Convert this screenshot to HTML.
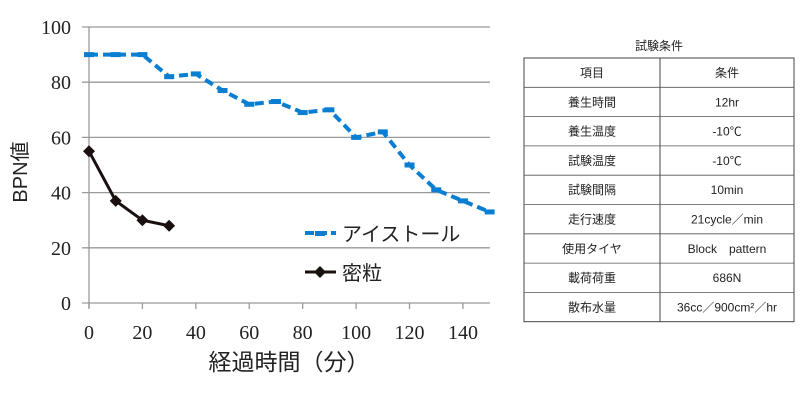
<!DOCTYPE html>
<html><head><meta charset="utf-8"><style>
body{margin:0;background:#fff;width:800px;height:400px;overflow:hidden}
svg text{font-family:"Liberation Serif","Noto Serif CJK SC",serif}
.j{font-family:"Liberation Sans","Noto Sans CJK JP",sans-serif}
</style></head><body>
<svg width="800" height="400" xmlns="http://www.w3.org/2000/svg">
<g id="grid"></g><g id="ticks"></g><g id="series"></g>
<text class="j" x="27" y="172" font-size="20" fill="#222" text-anchor="middle" transform="rotate(-90 27 172)">BPN値</text>
<text class="j" x="289" y="370" font-size="23" fill="#222" text-anchor="middle">経過時間（分）</text>
<g>
<line x1="305" y1="233" x2="336" y2="233" stroke="#0a7ed1" stroke-width="4" stroke-dasharray="9,4"/>
<rect x="315" y="231" width="10" height="5" fill="#0a7ed1"/>
<text class="j" x="342" y="241" font-size="20" fill="#222">アイストール</text>
<line x1="305" y1="272" x2="336" y2="272" stroke="#1a1010" stroke-width="3"/>
<path d="M320 266 L326 272 L320 278 L314 272Z" fill="#1a1010"/>
<text class="j" x="342" y="280" font-size="20" fill="#222">密粒</text>
</g>
<g id="table"></g>
</svg>
<script>
const xTicks=[0,20,40,60,80,100,120,140];
const yTicks=[0,20,40,60,80,100];
const aistorX=[0,10,20,30,40,50,60,70,80,90,100,110,120,130,140,150];
const aistorY=[90,90,90,82,83,77,72,73,69,70,60,62,50,41,37,33];
const mitsuX=[0,10,20,30];
const mitsuY=[55,37,30,28];
const rowLabels=["項目","養生時間","養生温度","試験温度","試験間隔","走行速度","使用タイヤ","載荷荷重","散布水量"];
const rowValues=["条件","12hr","-10℃","-10℃","10min","21cycle／min","Block　pattern","686N","36cc／900cm²／hr"];
const NS="http://www.w3.org/2000/svg";
const X=v=>89+v*2.671, Y=v=>303-v*2.76;
function mk(t,a,p){const e=document.createElementNS(NS,t);for(const k in a)e.setAttribute(k,a[k]);p.appendChild(e);return e;}
const g=document.getElementById('grid'),tk=document.getElementById('ticks'),s=document.getElementById('series');
yTicks.forEach(v=>{const l=mk('line',{x1:82,x2:490,y1:Y(v),y2:Y(v),stroke:'#9a9a9a','stroke-width':1.3},g);


const t=mk('text',{x:71,y:Y(v)+7,'font-size':20,'text-anchor':'end',fill:'#222'},tk);t.textContent=v;

});
const ax=mk('line',{x1:89,x2:89,y1:Y(100),y2:308,stroke:'#9a9a9a','stroke-width':1.3},g);


xTicks.forEach(v=>{mk('line',{x1:X(v),x2:X(v),y1:303,y2:309,stroke:'#9a9a9a','stroke-width':1.3},g);
const t=mk('text',{x:X(v),y:339,'font-size':20,'text-anchor':'middle',fill:'#222'},tk);t.textContent=v;

});
const pa=mk('polyline',{points:aistorX.map((x,i)=>X(x)+','+Y(aistorY[i])).join(' '),fill:'none',stroke:'#0a7ed1','stroke-width':4,'stroke-dasharray':'9,5'},s);


aistorX.forEach((x,i)=>{const r=mk('rect',{x:X(x)-5,y:Y(aistorY[i])-2.5,width:10,height:5,fill:'#0a7ed1'},s);

});
const pm=mk('polyline',{points:mitsuX.map((x,i)=>X(x)+','+Y(mitsuY[i])).join(' '),fill:'none',stroke:'#1a1010','stroke-width':3},s);


mitsuX.forEach((x,i)=>{const cx=X(x),cy=Y(mitsuY[i]);const d=mk('path',{d:`M${cx} ${cy-6}L${cx+6} ${cy}L${cx} ${cy+6}L${cx-6} ${cy}Z`,fill:'#1a1010'},s);

});
const tb=document.getElementById('table');
const tt=mk('text',{x:659,y:50,'font-size':12,'text-anchor':'middle',fill:'#222',class:'j'},tb);tt.textContent='試験条件';


const tTop=58,rh=29.3,L=524,R=794,M=660;
mk('rect',{x:L,y:tTop,width:R-L,height:rh*9,fill:'none',stroke:'#444','stroke-width':1},tb);
mk('line',{x1:M,x2:M,y1:tTop,y2:tTop+rh*9,stroke:'#444','stroke-width':1},tb);
rowLabels.forEach((lab,i)=>{const y=tTop+rh*i;
if(i>0)mk('line',{x1:L,x2:R,y1:y,y2:y,stroke:'#555','stroke-width':0.8},tb);
const a=mk('text',{x:(L+M)/2,y:y+19,'font-size':12,'text-anchor':'middle',fill:'#222',class:'j'},tb);a.textContent=lab;


const b=mk('text',{x:(M+R)/2,y:y+19,'font-size':12,'text-anchor':'middle',fill:'#222',class:'j'},tb);b.textContent=rowValues[i];

});
</script>
</body></html>
